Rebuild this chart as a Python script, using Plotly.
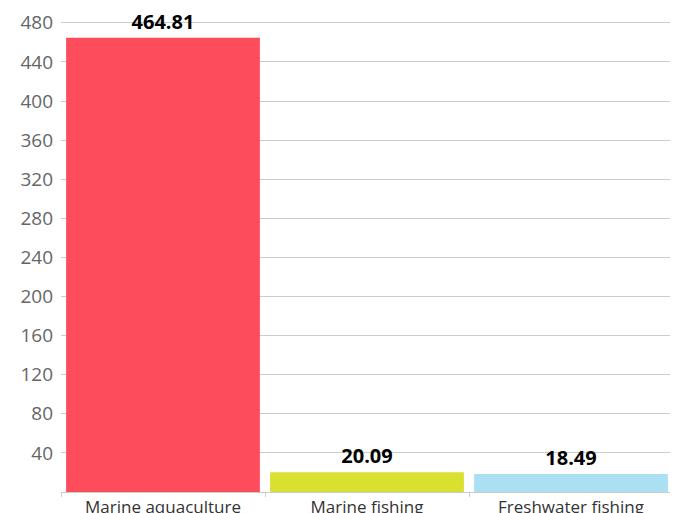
import plotly.graph_objects as go

categories = ["Marine aquaculture", "Marine fishing", "Freshwater fishing"]
values = [464.81, 20.09, 18.49]
bar_colors = ["#fd4d5c", "#d9e030", "#abe0f3"]
y_ticks = [40, 80, 120, 160, 200, 240, 280, 320, 360, 400, 440, 480]

# page body has an 8px margin, so the figure is sized to fit inside the window
fig = go.Figure(go.Bar(
    x=categories, y=values, marker_color=bar_colors, marker_line_width=0,
    text=[f"{v:.2f}" for v in values], textposition="outside", cliponaxis=False,
    textfont={"color": "#000000", "size": 20, "family": "Open Sans", "weight": "bold"},
))
fig.update_layout(
    width=670, height=505,
    paper_bgcolor="white", plot_bgcolor="white",
    margin=dict(l=53, r=5, t=7, b=21), showlegend=False,
    bargap=0.05,
    font=dict(family="Open Sans"),
    yaxis=dict(range=[0, 488], tickvals=y_ticks, showgrid=True, gridcolor="#cccccc",
               gridwidth=1, zeroline=False, ticks="", ticklabelstandoff=7,
               automargin=False,
               tickfont={"color": "#666666", "size": 19, "family": "Open Sans"}),
    xaxis=dict(showline=True, linecolor="#cccccc", linewidth=1, ticks="outside",
               tickson="boundaries", ticklen=4, tickcolor="#cccccc",
               automargin=False, ticklabelstandoff=0,
               tickfont={"color": "#333333", "size": 17, "family": "Open Sans"}),
)
fig.write_html("out.html")
